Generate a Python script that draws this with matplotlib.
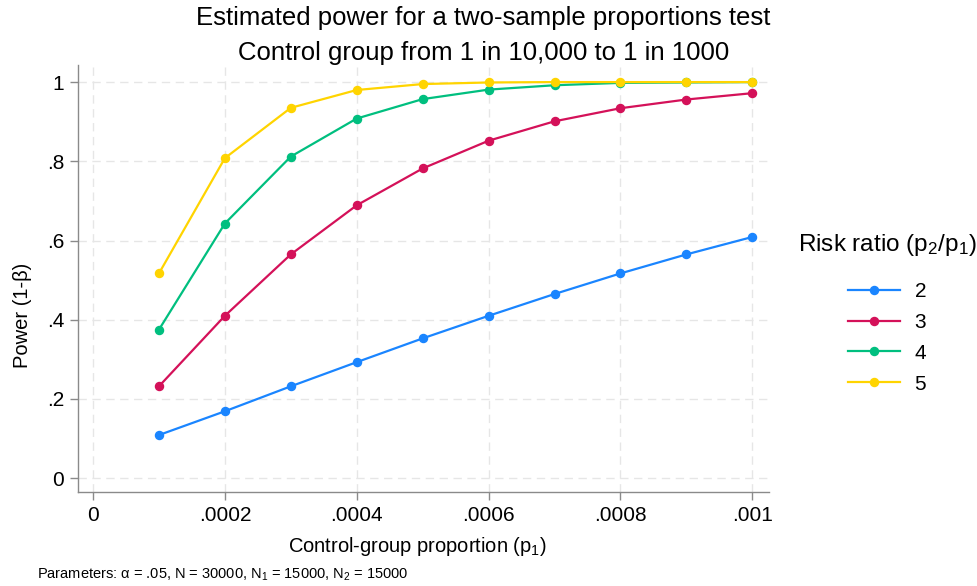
import matplotlib
matplotlib.use("Agg")
from matplotlib import pyplot as plt

plt.rcParams['font.family'] = ['Liberation Sans', 'DejaVu Sans']
plt.rcParams['mathtext.default'] = 'regular'

p1 = [0.0001, 0.0002, 0.0003, 0.0004, 0.0005, 0.0006, 0.0007, 0.0008, 0.0009, 0.001]
power_rr2 = [0.109, 0.169, 0.232, 0.293, 0.353, 0.410, 0.465, 0.517, 0.565, 0.609]
power_rr3 = [0.232, 0.410, 0.565, 0.689, 0.782, 0.852, 0.901, 0.934, 0.956, 0.972]
power_rr4 = [0.375, 0.643, 0.812, 0.908, 0.957, 0.981, 0.992, 0.998, 0.999, 1.0]
power_rr5 = [0.517, 0.808, 0.935, 0.980, 0.995, 0.999, 1.0, 1.0, 1.0, 1.0]
ratios = ['2', '3', '4', '5']
colors = ['#1a85ff', '#d41159', '#00bf7f', '#ffd400']

xticks = [0, 0.0002, 0.0004, 0.0006, 0.0008, 0.001]
xticklabels = ['0', '.0002', '.0004', '.0006', '.0008', '.001']
yticks = [0, 0.2, 0.4, 0.6, 0.8, 1]
yticklabels = ['0', '.2', '.4', '.6', '.8', '1']

fig = plt.figure(figsize=(9.78, 5.86), dpi=100)
ax = fig.add_axes([0.0798, 0.160, 0.707, 0.729])

for vals, lab, c in zip([power_rr2, power_rr3, power_rr4, power_rr5], ratios, colors):
    ax.plot(p1, vals, color=c, marker='o', markersize=5.8, linewidth=1.6, label=lab)

ax.set_xlim(-0.0000227, 0.001026)
ax.set_ylim(-0.0354, 1.043)
ax.set_xticks(xticks)
ax.set_xticklabels(xticklabels)
ax.set_yticks(yticks)
ax.set_yticklabels(yticklabels)
ax.tick_params(labelsize=15, colors='#000000', length=6, width=1, direction='out', pad=4)
ax.tick_params(axis='both', color='#8a8a8a')
ax.grid(True, color='#e6e6e6', linestyle=(0, (6, 4)), linewidth=1)
for s in ['top', 'right']:
    ax.spines[s].set_visible(False)
for s in ['left', 'bottom']:
    ax.spines[s].set_color('#8a8a8a')
    ax.spines[s].set_linewidth(1)

fig.text(0.0225, 0.4625, 'Power (1-β)', fontsize=14.5, rotation=90, ha='center', va='center')
fig.text(0.4264, 0.0666, 'Control-group proportion (p$_1$)', fontsize=14.5, ha='center', va='center')

fig.text(0.494, 0.970, 'Estimated power for a two-sample proportions test', fontsize=18.5, ha='center', va='center')
fig.text(0.494, 0.909, 'Control group from 1 in 10,000 to 1 in 1000', fontsize=18.5, ha='center', va='center')
fig.text(0.0378, 0.0188, 'Parameters: α = .05, N = 30000, N$_1$ = 15000, N$_2$ = 15000', fontsize=10.5, ha='left', va='center')

leg = ax.legend(loc='center', bbox_to_anchor=(887 / 978, 1 - 313 / 586), bbox_transform=fig.transFigure,
                frameon=False, fontsize=15, title='Risk ratio (p$_2$/p$_1$)', title_fontsize=17.5,
                handlelength=2.5, handletextpad=0.7, labelspacing=0.57, borderaxespad=0, borderpad=0)
leg._legend_box.align = 'center'
leg._legend_box.sep = 17

fig.savefig('out.png', dpi=100)
